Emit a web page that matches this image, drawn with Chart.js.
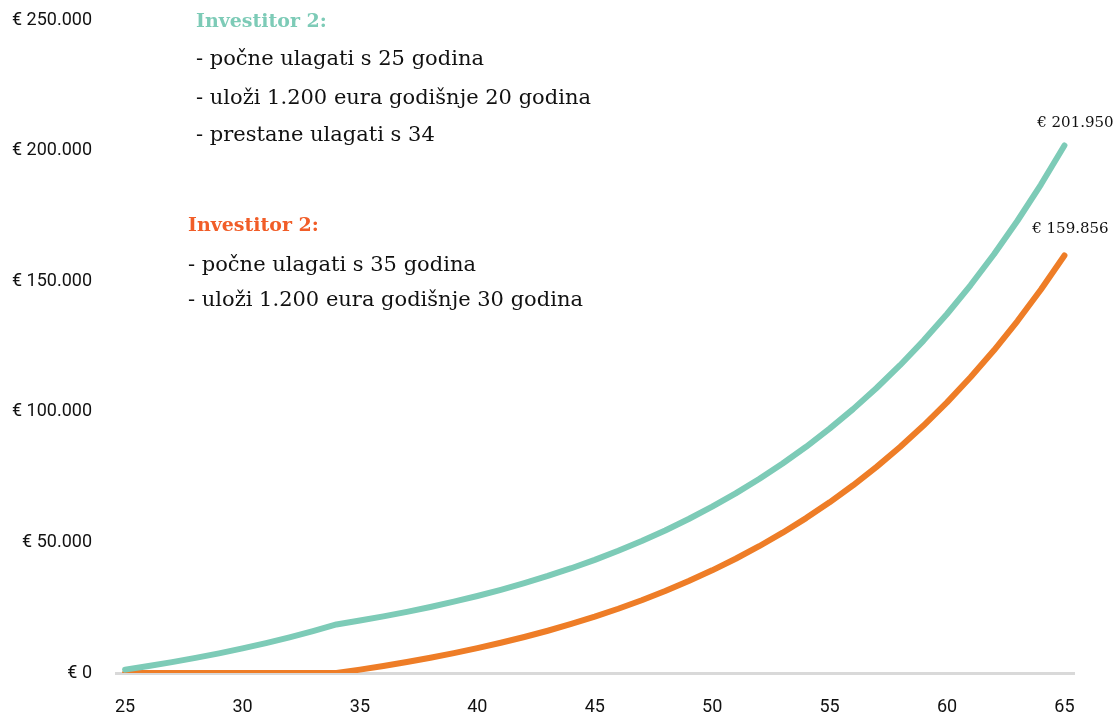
<!DOCTYPE html>
<html>
<head>
<meta charset="utf-8">
<script src="https://cdn.jsdelivr.net/npm/chart.js@4/dist/chart.umd.min.js"></script>
<style>
  html, body { margin: 0; padding: 0; background: #fff; }
  #chart { display: block; }
</style>
</head>
<body>
<canvas id="chart" width="1119" height="716"></canvas>
<script>
// ages on the x axis
const ages = [25, 26, 27, 28, 29, 30, 31, 32, 33, 34, 35, 36, 37, 38, 39, 40, 41, 42, 43, 44, 45,
    46, 47, 48, 49, 50, 51, 52, 53, 54, 55, 56, 57, 58, 59, 60, 61, 62, 63, 64, 65];

// investor who starts at 25 (teal)
const earlyInvestor = [1283, 2668, 4164, 5780, 7525, 9410, 11446, 13644, 16019, 18583,
    20069, 21675, 23409, 25282, 27304, 29488, 31847, 34395, 37147, 40119, 43328,
    46794, 50538, 54581, 58947, 63663, 68756, 74257, 80197, 86613, 93542,
    101026, 109108, 117836, 127263, 137444, 148440, 160315, 173140, 186991, 201950];

// investor who starts at 35 (orange)
const lateInvestor = [0, 0, 0, 0, 0, 0, 0, 0, 0, 0,
    1296, 2696, 4207, 5840, 7603, 9507, 11564, 13785, 16184, 18775, 21573,
    24594, 27858, 31382, 35189, 39300, 43740, 48535, 53714, 59307, 65348,
    71872, 78917, 86527, 94745, 103620, 113206, 123559, 134739, 146814, 159856];

const xTicks = [25, 30, 35, 40, 45, 50, 55, 60, 65];
const yTicks = [0, 50000, 100000, 150000, 200000, 250000];

const TEAL = "#7dcbb7";
const ORANGE = "#ee7d27";
const TITLE_ORANGE = "#f15d28";

const euro = (v) => "€ " + Math.round(v).toString().replace(/\B(?=(\d{3})+(?!\d))/g, ".");

// text blocks in the upper left
const notes = [
    { x: 196, y: 22, color: TEAL, title: "Investitor 2:",
      lines: ["- počne ulagati s 25 godina", "- uloži 1.200 eura godišnje 20 godina", "- prestane ulagati s 34"],
      lineY: [60, 99, 136] },
    { x: 188, y: 226, color: TITLE_ORANGE, title: "Investitor 2:",
      lines: ["- počne ulagati s 35 godina", "- uloži 1.200 eura godišnje 30 godina"],
      lineY: [266, 301] },
];

const notesPlugin = {
    id: "notes",
    afterDraw(chart) {
        const ctx = chart.ctx;
        ctx.save();
        ctx.textBaseline = "middle";
        ctx.textAlign = "left";
        notes.forEach((n) => {
            ctx.font = "bold 19px 'DejaVu Serif'";
            ctx.fillStyle = n.color;
            ctx.fillText(n.title, n.x, n.y);
            ctx.font = "21px 'DejaVu Serif'";
            ctx.fillStyle = "#111";
            n.lines.forEach((l, i) => ctx.fillText(l, n.x, n.lineY[i]));
        });

        // end-of-line value labels
        ctx.font = "15px 'DejaVu Serif'";
        ctx.fillStyle = "#111";
        ctx.textAlign = "center";
        const offsets = [[11, -22], [6, -26]];
        chart.data.datasets.forEach((ds, i) => {
            const meta = chart.getDatasetMeta(i);
            const p = meta.data[meta.data.length - 1];
            ctx.fillText(euro(ds.data[ds.data.length - 1].y), p.x + offsets[i][0], p.y + offsets[i][1]);
        });
        ctx.restore();
    },
};

const toPoints = (vals) => vals.map((v, i) => ({ x: ages[i], y: v }));

new Chart(document.getElementById("chart"), {
    type: "line",
    data: {
        datasets: [
            {
                label: "Investitor 1",
                data: toPoints(earlyInvestor),
                borderColor: TEAL,
                borderWidth: 6,
                borderCapStyle: "round",
                borderJoinStyle: "round",
                pointRadius: 0,
                tension: 0,
            },
            {
                label: "Investitor 2",
                data: toPoints(lateInvestor),
                borderColor: ORANGE,
                borderWidth: 6,
                borderCapStyle: "round",
                borderJoinStyle: "round",
                pointRadius: 0,
                tension: 0,
            },
        ],
    },
    options: {
        responsive: false,
        animation: false,
        layout: { padding: { top: 20, right: 44, left: 0, bottom: 0 } },
        plugins: {
            legend: { display: false },
            tooltip: { enabled: false },
        },
        scales: {
            x: {
                type: "linear",
                min: 24.57,
                max: 65.45,
                afterBuildTicks: (scale) => { scale.ticks = xTicks.map((v) => ({ value: v })); },
                afterFit: (scale) => { scale.height = 43; },
                grid: { display: false },
                border: { display: false },
                ticks: {
                    padding: 16,
                    color: "#111",
                    font: { family: "Roboto", size: 18 },
                    maxRotation: 0,
                },
            },
            y: {
                min: 0,
                max: 250000,
                afterBuildTicks: (scale) => { scale.ticks = yTicks.map((v) => ({ value: v })); },
                afterFit: (scale) => {
                    scale.width = 115;
                    scale.paddingTop = 0;
                    scale.paddingBottom = 0;
                },
                grid: {
                    drawTicks: false,
                    lineWidth: 3,
                    color: (c) => (c.tick && c.tick.value === 0 ? "#d9d9d9" : "rgba(0,0,0,0)"),
                },
                border: { display: false },
                ticks: {
                    padding: 23,
                    color: "#111",
                    font: { family: "Roboto", size: 18 },
                    callback: (v) => euro(v),
                },
            },
        },
    },
    plugins: [notesPlugin],
});
</script>
</body>
</html>
